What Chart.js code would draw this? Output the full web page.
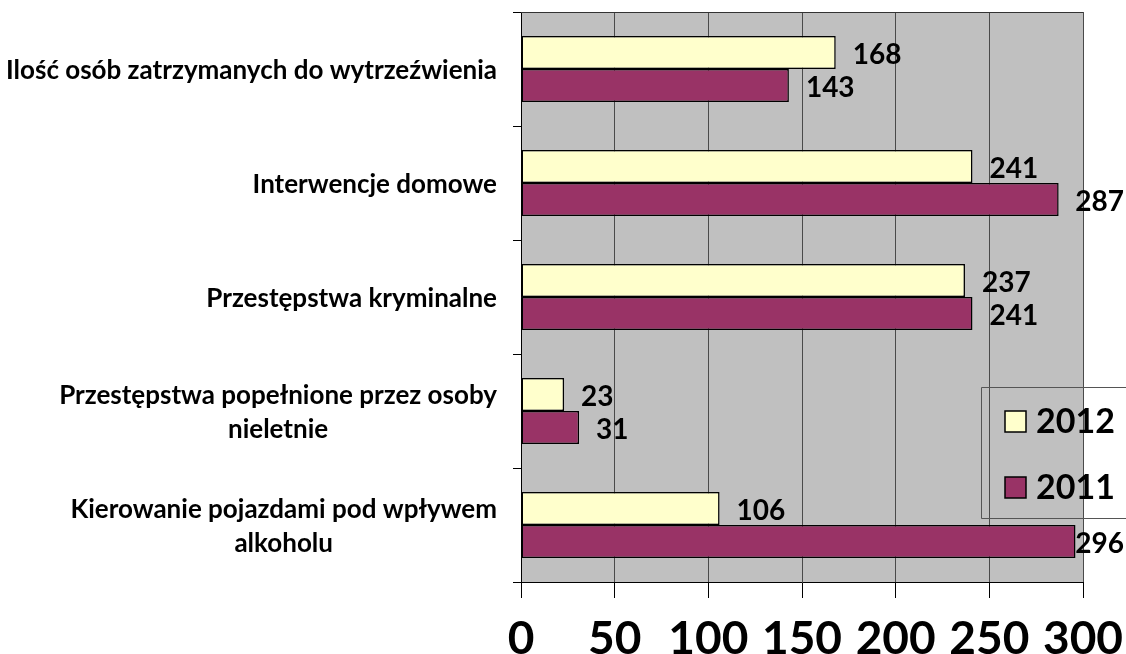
<!DOCTYPE html>
<html lang="pl">
<head>
    <meta charset="UTF-8">
    <title>Interwencje 2011-2012</title>
    <script src="https://cdn.jsdelivr.net/npm/chart.js"></script>
    <style>
        html, body { margin: 0; padding: 0; background: #fff; }
        #wrap { width: 1126px; height: 654px; }
    </style>
</head>
<body>
    <div id="wrap"><canvas id="chart"></canvas></div>
    <script>
        // Data
        const categories = [
            ['Ilość osób zatrzymanych do wytrzeźwienia'],
            ['Interwencje domowe '],
            ['Przestępstwa kryminalne'],
            ['Przestępstwa popełnione przez osoby', 'nieletnie'],
            ['Kierowanie pojazdami pod wpływem', 'alkoholu']
        ];
        const seriesNames = ['2012', '2011'];
        const values2012 = [168, 241, 237, 23, 106];
        const values2011 = [143, 287, 241, 31, 296];
        const xTicks = [0, 50, 100, 150, 200, 250, 300];

        const colors = ['#FFFFCC', '#993366'];
        const FONT = 'Lato';

        // gray plot background + top frame line
        const plotArea = {
            id: 'plotArea',
            beforeDraw(chart) {
                const { ctx, chartArea: a } = chart;
                ctx.save();
                ctx.fillStyle = '#C0C0C0';
                ctx.fillRect(a.left, a.top, a.right - a.left, a.bottom - a.top);
                ctx.restore();
            },
            afterDatasetsDraw(chart) {
                const { ctx, chartArea: a } = chart;
                ctx.save();
                ctx.strokeStyle = '#333';
                ctx.lineWidth = 1;
                ctx.beginPath();
                ctx.moveTo(a.left, a.top + 0.5);
                ctx.lineTo(a.right, a.top + 0.5);
                ctx.stroke();
                ctx.restore();
            }
        };

        // value labels next to the bar ends
        const valueLabels = {
            id: 'valueLabels',
            afterDatasetsDraw(chart) {
                const { ctx } = chart;
                ctx.save();
                ctx.font = 'bold 28px ' + FONT;
                ctx.fillStyle = '#000';
                ctx.textBaseline = 'middle';
                ctx.textAlign = 'left';
                chart.data.datasets.forEach((ds, di) => {
                    chart.getDatasetMeta(di).data.forEach((bar, i) => {
                        const txt = String(ds.data[i]);
                        const w = ctx.measureText(txt).width;
                        const x = Math.min(bar.x + 17, chart.width - w - 2);
                        ctx.fillText(txt, x, bar.y + 2);
                    });
                });
                ctx.restore();
            }
        };

        // category labels: block right aligned, lines centred
        const catLabels = {
            id: 'catLabels',
            afterDraw(chart) {
                const { ctx } = chart;
                const y = chart.scales.y;
                const rightEdge = y.right - 24;
                const lh = 34;
                ctx.save();
                ctx.font = 'bold 26px ' + FONT;
                ctx.fillStyle = '#000';
                ctx.textBaseline = 'middle';
                ctx.textAlign = 'center';
                categories.forEach((lines, i) => {
                    const cy = y.getPixelForTick(i) + 2;
                    const widest = Math.max(...lines.map(l => ctx.measureText(l.trimEnd()).width));
                    const cx = rightEdge - widest / 2;
                    lines.forEach((l, k) => {
                        ctx.fillText(l.trimEnd(), cx, cy + (k - (lines.length - 1) / 2) * lh);
                    });
                });
                ctx.restore();
            }
        };

        // legend box inside the plot, bottom right
        const boxLegend = {
            id: 'boxLegend',
            afterDraw(chart) {
                const { ctx, chartArea: a } = chart;
                const left = a.right - 102, top = 387, bottom = 518;
                ctx.save();
                ctx.strokeStyle = '#555';
                ctx.lineWidth = 1;
                ctx.beginPath();
                ctx.moveTo(chart.width, top + 0.5);
                ctx.lineTo(left + 0.5, top + 0.5);
                ctx.lineTo(left + 0.5, bottom + 0.5);
                ctx.lineTo(chart.width, bottom + 0.5);
                ctx.stroke();
                ctx.font = 'bold 34px ' + FONT;
                ctx.textBaseline = 'middle';
                ctx.textAlign = 'left';
                chart.data.datasets.forEach((ds, i) => {
                    const cy = 421 + i * 66;
                    ctx.fillStyle = ds.backgroundColor;
                    ctx.fillRect(left + 24, cy - 10, 21, 21);
                    ctx.strokeStyle = '#000';
                    ctx.lineWidth = 1.5;
                    ctx.strokeRect(left + 24, cy - 10, 21, 21);
                    ctx.fillStyle = '#000';
                    ctx.fillText(ds.label, left + 55, cy + 1);
                });
                ctx.restore();
            }
        };

        new Chart(document.getElementById('chart'), {
            type: 'bar',
            data: {
                labels: categories.map(c => c.join(' ')),
                datasets: [
                    {
                        label: seriesNames[0],
                        data: values2012,
                        backgroundColor: colors[0],
                        borderColor: '#000',
                        borderWidth: 1.5,
                        borderSkipped: false
                    },
                    {
                        label: seriesNames[1],
                        data: values2011,
                        backgroundColor: colors[1],
                        borderColor: '#000',
                        borderWidth: 1.5,
                        borderSkipped: false
                    }
                ]
            },
            options: {
                indexAxis: 'y',
                responsive: true,
                maintainAspectRatio: false,
                animation: false,
                categoryPercentage: 0.58,
                barPercentage: 1,
                layout: { padding: { top: 12, right: 43, left: 0, bottom: 0 } },
                plugins: {
                    legend: { display: false },
                    tooltip: { enabled: false }
                },
                scales: {
                    x: {
                        min: xTicks[0],
                        max: xTicks[xTicks.length - 1],
                        afterBuildTicks(scale) {
                            scale.ticks = xTicks.map(v => ({ value: v }));
                        },
                        afterFit(scale) {
                            scale.height = 72;
                            scale.paddingLeft = 0;
                            scale.paddingRight = 0;
                        },
                        grid: {
                            color: '#4a4a4a',
                            lineWidth: 1,
                            tickLength: 16,
                            tickColor: '#000'
                        },
                        border: { display: true, color: '#000', width: 1 },
                        ticks: {
                            color: '#000',
                            padding: 14,
                            font: { family: FONT, size: 46, weight: 'bold' }
                        }
                    },
                    y: {
                        afterFit(scale) { scale.width = 521; },
                        grid: {
                            offset: true,
                            drawOnChartArea: false,
                            tickLength: 8,
                            color: '#000'
                        },
                        border: { display: true, color: '#000', width: 1 },
                        ticks: { display: false }
                    }
                }
            },
            plugins: [plotArea, valueLabels, catLabels, boxLegend]
        });
    </script>
</body>
</html>
